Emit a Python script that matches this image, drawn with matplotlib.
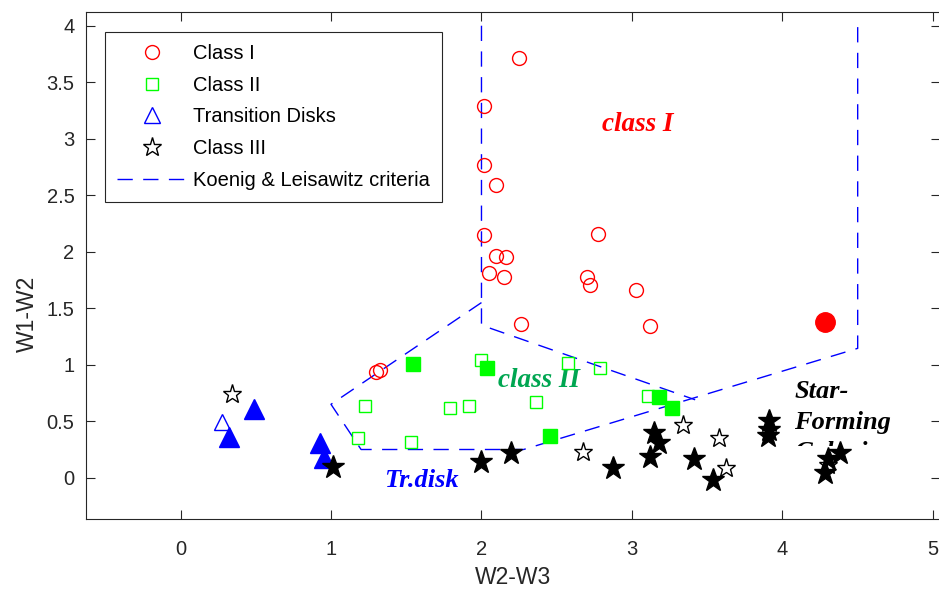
import matplotlib
matplotlib.use("Agg")
import matplotlib.pyplot as plt
from matplotlib.patches import Rectangle

plt.rcParams['font.family'] = ['Liberation Sans', 'DejaVu Sans']

# ---------------- data ----------------
c1_x = [2.25, 2.016, 2.016, 2.096, 2.016, 2.776, 2.096, 2.162, 2.051, 2.15,
        2.698, 2.72, 3.03, 2.262, 3.119, 1.298, 1.329]
c1_y = [3.71, 3.29, 2.77, 2.59, 2.15, 2.16, 1.96, 1.95, 1.81, 1.78,
        1.78, 1.705, 1.66, 1.357, 1.342, 0.938, 0.953]
c1f_x = [4.282]
c1f_y = [1.375]

c2_x = [1.996, 2.576, 2.787, 1.225, 1.794, 1.916, 2.361, 3.108, 1.18, 1.535]
c2_y = [1.04, 1.012, 0.973, 0.635, 0.62, 0.637, 0.67, 0.723, 0.349, 0.319]
c2f_x = [1.546, 2.04, 3.179, 3.267, 2.454]
c2f_y = [1.006, 0.973, 0.717, 0.62, 0.369]

td_x = [0.274]
td_y = [0.496]
tdf_x = [0.487, 0.323, 0.926, 0.955]
tdf_y = [0.605, 0.363, 0.304, 0.172]

c3_x = [0.343, 2.672, 3.336, 3.58, 3.624, 4.30]
c3_y = [0.741, 0.23, 0.466, 0.348, 0.083, 0.11]
c3f_x = [1.014, 2.0, 2.195, 2.875, 3.146, 3.179, 3.119, 3.411, 3.536,
         3.912, 3.905, 3.91, 4.382, 4.304, 4.282]
c3f_y = [0.092, 0.142, 0.216, 0.083, 0.393, 0.31, 0.18, 0.163, -0.02,
         0.50, 0.369, 0.42, 0.216, 0.165, 0.045]

# Koenig & Leisawitz criteria boundaries
kl1_x = [2.0, 2.0, 3.42]
kl1_y = [4.0, 1.35, 0.69]
kl2_x = [2.0, 1.0, 1.2, 2.28, 4.5, 4.5]
kl2_y = [1.55, 0.65, 0.25, 0.25, 1.145, 4.0]

xticks = [0, 1, 2, 3, 4, 5]
yticks = [0, 0.5, 1, 1.5, 2, 2.5, 3, 3.5, 4]
ytick_labels = ['0', '0.5', '1', '1.5', '2', '2.5', '3', '3.5', '4']

# ---------------- figure ----------------
W, H = 939, 596
fig = plt.figure(figsize=(W / 100, H / 100), dpi=100)
l, r, b, t = 85.7, 940, 519, 11.7
ax = fig.add_axes([l / W, (H - b) / H, (r - l) / W, (b - t) / H])

dash = (0, (11, 7.5))
ax.plot(kl1_x, kl1_y, color='#0000FF', lw=1.0, linestyle=dash, zorder=2,
        label='Koenig & Leisawitz criteria')
ax.plot(kl2_x, kl2_y, color='#0000FF', lw=1.0, linestyle=dash, zorder=2)

ax.plot(c1_x, c1_y, 'o', ls='none', mfc='none', mec='#FF0000', ms=10, mew=1.0,
        zorder=3, label='Class I')
ax.plot(c1f_x, c1f_y, 'o', ls='none', mfc='#FF0000', mec='#FF0000', ms=14,
        zorder=3)
ax.plot(c2_x, c2_y, 's', ls='none', mfc='none', mec='#00FF00', ms=8.5, mew=1.0,
        zorder=3, label='Class II')
ax.plot(c2f_x, c2f_y, 's', ls='none', mfc='#00FF00', mec='#00FF00', ms=10.5,
        zorder=3)
ax.plot(td_x, td_y, '^', ls='none', mfc='none', mec='#0000FF', ms=12, mew=1.0,
        zorder=3, label='Transition Disks')
ax.plot(tdf_x, tdf_y, '^', ls='none', mfc='#0000FF', mec='#0000FF', ms=15,
        zorder=3)
ax.plot(c3_x, c3_y, '*', ls='none', mfc='none', mec='black', ms=14, mew=1.0,
        zorder=3, label='Class III')
ax.plot(c3f_x, c3f_y, '*', ls='none', mfc='black', mec='black', ms=17,
        zorder=3)

serif = ['Liberation Serif', 'DejaVu Serif']
ax.text(3.04, 3.13, 'class I', color='#FF0000', fontsize=19.5, fontweight='bold',
        fontstyle='italic', family=serif, ha='center', va='center', zorder=1)
ax.text(2.38, 0.86, 'class II', color='#00A651', fontsize=19.5, fontweight='bold',
        fontstyle='italic', family=serif, ha='center', va='center', zorder=1)
ax.text(1.60, -0.02, 'Tr.disk', color='#0000FF', fontsize=19, fontweight='bold',
        fontstyle='italic', family=serif, ha='center', va='center', zorder=1)
ax.text(4.08, 0.865, 'Star-\nForming\nGalaxies', color='black', fontsize=19,
        fontweight='bold', fontstyle='italic', family=serif, ha='left', va='top',
        linespacing=1.42, zorder=1)
ax.add_patch(Rectangle((4.0, -0.3), 0.9, 0.58, facecolor='white',
                       edgecolor='none', zorder=1.5))

ax.set_xlim(-0.63, 5.047)
ax.set_ylim(-0.365, 4.124)
ax.set_xticks(xticks)
ax.set_yticks(yticks)
ax.set_yticklabels(ytick_labels)
ax.tick_params(direction='in', length=6.5, width=0.8, colors='#262626',
               labelsize=14.5, top=True, right=True)
ax.tick_params(axis='x', pad=15)
ax.tick_params(axis='y', pad=8)
for s in ax.spines.values():
    s.set_color('#262626')
    s.set_linewidth(0.8)
ax.set_xlabel('W2-W3', fontsize=16.5, color='#262626')
ax.set_ylabel('W1-W2', fontsize=16.5, color='#262626')
ax.xaxis.set_label_coords(0.5, -0.093)
ax.yaxis.set_label_coords(-0.055, 0.404)

handles, labels = ax.get_legend_handles_labels()
order = [1, 2, 3, 4, 0]
leg = ax.legend([handles[i] for i in order], [labels[i] for i in order],
                loc='upper left', bbox_to_anchor=(0.0226, 0.96), borderaxespad=0,
                fontsize=14.5, fancybox=False, edgecolor='#262626',
                handlelength=3.45, handletextpad=0.3, labelspacing=0.63,
                borderpad=0.6, framealpha=1)
leg.get_frame().set_linewidth(0.8)

fig.savefig('out.png', dpi=100)
